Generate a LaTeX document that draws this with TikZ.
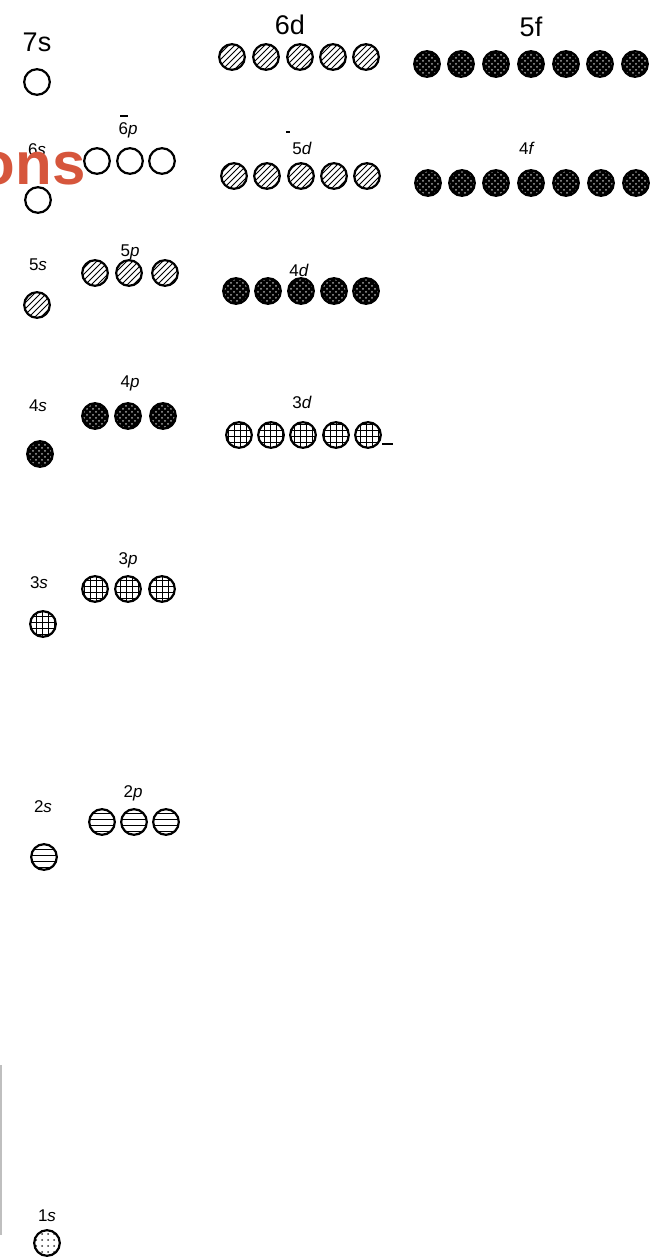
\documentclass[tikz,border=0pt]{standalone}
\usepackage{fontspec}
\setmainfont{Liberation Sans}
\usepackage{xcolor}
\usepackage{tikz}
\usetikzlibrary{patterns}
\definecolor{onsred}{RGB}{214,86,60}
\tikzset{
	orb/.style={circle, draw, line width=1.1pt, minimum size=12.8pt, inner sep=0pt, fill=white},
	emptyorb/.style={orb},
	hatchorb/.style={orb, pattern=north east lines},
	darkorb/.style={orb, preaction={fill=black}, pattern=crosshatch dots, pattern color=black!35},
	gridorb/.style={orb, preaction={fill=white}, pattern=grid},
	lineorb/.style={orb, preaction={fill=white}, pattern=horizontal lines},
	dotorb/.style={orb, preaction={fill=white}, pattern=dots, pattern color=black!80},
	sublabel/.style={font=\fontsize{8.5}{10}\selectfont, inner sep=0pt},
	biglabel/.style={font=\fontsize{13.5}{16}\selectfont, inner sep=0pt},
	tickmark/.style={line width=0.7pt}
}

\begin{document}
\begin{tikzpicture}[x=0.5pt, y=-0.5pt]
	\useasboundingbox (0,0) rectangle (658,1258);
	
	%% -- Shell 7 / 6d / 5f (top row)
	\node[biglabel] (l7s) at (37,42) {7s};
	\node[emptyorb] (s7) at (37,82) {};
	
	\node[biglabel] (l6d) at (290,25) {6d};
	\node[hatchorb] (d6a) at (232,57) {};
	\node[hatchorb] (d6b) at (266,57) {};
	\node[hatchorb] (d6c) at (300,57) {};
	\node[hatchorb] (d6d) at (333,57) {};
	\node[hatchorb] (d6e) at (366,57) {};
	
	\node[biglabel] (l5f) at (531,27) {5f};
	\node[darkorb] (f5a) at (427,64) {};
	\node[darkorb] (f5b) at (461,64) {};
	\node[darkorb] (f5c) at (496,64) {};
	\node[darkorb] (f5d) at (531,64) {};
	\node[darkorb] (f5e) at (566,64) {};
	\node[darkorb] (f5f) at (600,64) {};
	\node[darkorb] (f5g) at (635,64) {};
	
	%% -- Shell 6 / 5d / 4f
	\node[sublabel] (l6s) at (37,150) {6\textit{s}};
	\node[emptyorb] (s6) at (38,200) {};
	
	\node[sublabel] (l6p) at (128,130) {6\textit{p}};
	\coordinate (bar6p) at (120,116);
	\draw[tickmark] (bar6p) -- ++(8,0);
	\node[emptyorb] (p6a) at (97,161) {};
	\node[emptyorb] (p6b) at (130,161) {};
	\node[emptyorb] (p6c) at (162,161) {};
	
	\node[sublabel] (l5d) at (302,148) {5\textit{d}};
	\coordinate (bar5d) at (286,132);
	\draw[tickmark] (bar5d) -- ++(4,0);
	\node[hatchorb] (d5a) at (234,176) {};
	\node[hatchorb] (d5b) at (267,176) {};
	\node[hatchorb] (d5c) at (301,176) {};
	\node[hatchorb] (d5d) at (334,176) {};
	\node[hatchorb] (d5e) at (367,176) {};
	
	\node[sublabel] (l4f) at (527,148) {4\textit{f}};
	\node[darkorb] (f4a) at (428,183) {};
	\node[darkorb] (f4b) at (462,183) {};
	\node[darkorb] (f4c) at (496,183) {};
	\node[darkorb] (f4d) at (531,183) {};
	\node[darkorb] (f4e) at (566,183) {};
	\node[darkorb] (f4f) at (601,183) {};
	\node[darkorb] (f4g) at (636,183) {};
	
	%% -- Shell 5 / 4d
	\node[sublabel] (l5s) at (38,265) {5\textit{s}};
	\node[hatchorb] (s5) at (37,305) {};
	
	\node[sublabel] (l5p) at (130,252) {5\textit{p}};
	\node[hatchorb] (p5a) at (95,273) {};
	\node[hatchorb] (p5b) at (129,273) {};
	\node[hatchorb] (p5c) at (165,273) {};
	
	\node[sublabel] (l4d) at (299,270) {4\textit{d}};
	\node[darkorb] (d4a) at (236,291) {};
	\node[darkorb] (d4b) at (268,291) {};
	\node[darkorb] (d4c) at (301,291) {};
	\node[darkorb] (d4d) at (334,291) {};
	\node[darkorb] (d4e) at (366,291) {};
	
	%% -- Shell 4 / 3d
	\node[sublabel] (l4s) at (38,406) {4\textit{s}};
	\node[darkorb] (s4) at (40,454) {};
	
	\node[sublabel] (l4p) at (130,383) {4\textit{p}};
	\node[darkorb] (p4a) at (95,416) {};
	\node[darkorb] (p4b) at (128,416) {};
	\node[darkorb] (p4c) at (163,416) {};
	
	\node[sublabel] (l3d) at (302,402) {3\textit{d}};
	\node[gridorb] (d3a) at (239,435) {};
	\node[gridorb] (d3b) at (271,435) {};
	\node[gridorb] (d3c) at (303,435) {};
	\node[gridorb] (d3d) at (336,435) {};
	\node[gridorb] (d3e) at (368,435) {};
	\coordinate (tail3d) at (382,444);
	\draw[tickmark] (tail3d) -- ++(11,0);
	
	%% -- Shell 3
	\node[sublabel] (l3s) at (39,583) {3\textit{s}};
	\node[gridorb] (s3) at (43,624) {};
	
	\node[sublabel] (l3p) at (128,560) {3\textit{p}};
	\node[gridorb] (p3a) at (95,589) {};
	\node[gridorb] (p3b) at (128,589) {};
	\node[gridorb] (p3c) at (162,589) {};
	
	%% -- Shell 2
	\node[sublabel] (l2s) at (43,807) {2\textit{s}};
	\node[lineorb] (s2) at (44,857) {};
	
	\node[sublabel] (l2p) at (133,793) {2\textit{p}};
	\node[lineorb] (p2a) at (102,822) {};
	\node[lineorb] (p2b) at (134,822) {};
	\node[lineorb] (p2c) at (166,822) {};
	
	%% -- Shell 1
	\node[sublabel] (l1s) at (47,1216) {1\textit{s}};
	\node[dotorb] (s1) at (47,1243) {};
	\coordinate (edgetop) at (1,1065);
	\coordinate (edgebot) at (1,1235);
	\draw[gray!50, line width=1pt] (edgetop) -- (edgebot);
	
	%% -- Overlaid caption fragment
	\node[font=\fontsize{30}{30}\selectfont\bfseries, text=onsred, anchor=base east, inner sep=0pt]
	(ons) at (86,184) {ons};
	
\end{tikzpicture}
\end{document}
